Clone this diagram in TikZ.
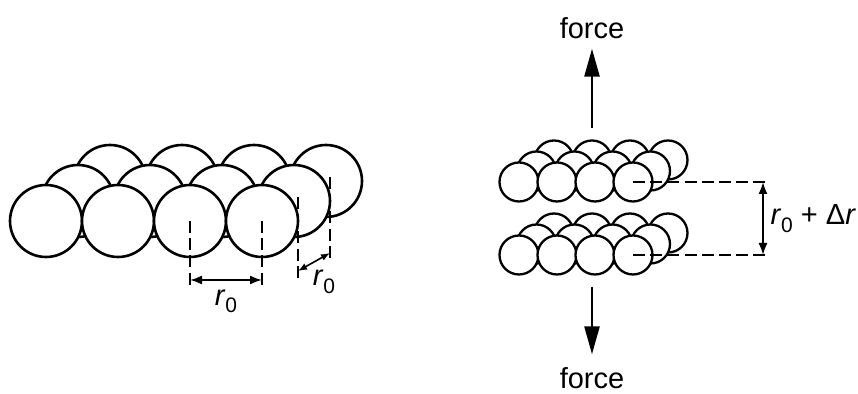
\documentclass[tikz,border=0pt]{standalone}
\usepackage{fontspec}
\setmainfont{Liberation Sans}
\usetikzlibrary{positioning, arrows.meta}
\tikzstyle{atom} = [circle,draw,fill=white,line width=1.3pt,inner sep=0pt,minimum size=36pt]
\tikzstyle{small atom} = [atom,line width=1.15pt,minimum size=19.5pt]
\tikzstyle{guide} = [line width=1.25pt,dash pattern=on 6pt off 2.6pt]
\tikzstyle{dim} = [line width=0.9pt,{Latex[length=6pt,width=4.5pt]}-{Latex[length=6pt,width=4.5pt]}]
\tikzstyle{dim small} = [line width=0.8pt,{Latex[length=4.5pt,width=3.5pt]}-{Latex[length=4.5pt,width=3.5pt]}]
\tikzstyle{pull} = [line width=1.3pt,-{Triangle[length=14pt,width=7.5pt]}]
\newcommand{\rzero}{\textit{r}\raisebox{-3.8pt}{\fontsize{10.5}{12}\selectfont 0}}

\begin{document}
\begin{tikzpicture}[x=0.5pt,y=-0.5pt,font=\fontsize{14.5}{17}\selectfont]
\useasboundingbox (0,0) rectangle (858,394);
% layer of atoms, back row first
\foreach \k in {2,1,0}
  \foreach \i in {0,...,3}
    \node[atom] (a\k\i) at ({46+72*\i+32*\k},{221-20*\k}) {};
\path (a02.center) ++(0,66) coordinate (p1) ++(0,-7) coordinate (q1);
\path (a03.center) ++(0,66) coordinate (p2) ++(0,-7) coordinate (q2);
\path (a13.center) ++(4,-4) coordinate (s3) ++(0,81) coordinate (p3) ++(0,-7) coordinate (q3);
\path (a23.center) ++(4,-4) coordinate (s4) ++(0,81) coordinate (p4) ++(0,-5) coordinate (q4);
\draw[guide] (a02.center) -- (p1);
\draw[guide] (a03.center) -- (p2);
\draw[guide] (s3) -- (p3);
\draw[guide] (s4) -- (p4);
\draw[dim] (q1) -- node[below=1pt] (rl) {\rzero} (q2);
\draw[dim small] (q3) -- (q4);
\node (rr) at (324,282) {\rzero};
% two layers pulled apart
\foreach \g/\yy in {t/182,b/255}
  \foreach \k in {2,1,0}
    \foreach \i in {0,...,3}
      \node[small atom] (\g\k\i) at ({519+38*\i+17.5*\k},{\yy-11*\k}) {};
\path (t03.center) ++(135,0) coordinate (te) ++(-5,0) coordinate (ta);
\path (b03.center) ++(135,0) coordinate (be) ++(-5,0) coordinate (ba);
\draw[guide] (t03.center) -- (te);
\draw[guide] (b03.center) -- (be);
\draw[dim] (ta) -- node[right] (gap) {\rzero{} + Δ\textit{r}} (ba);
% forces
\node (ftop) at (592,28) {force};
\node (fbot) at (592,378) {force};
\coordinate (fs) at (592,128);
\coordinate (fe) at (592,287);
\draw[pull,shorten >=1.5pt] (fs) -- (ftop);
\draw[pull,shorten >=3pt] (fe) -- (fbot);
\end{tikzpicture}
\end{document}
